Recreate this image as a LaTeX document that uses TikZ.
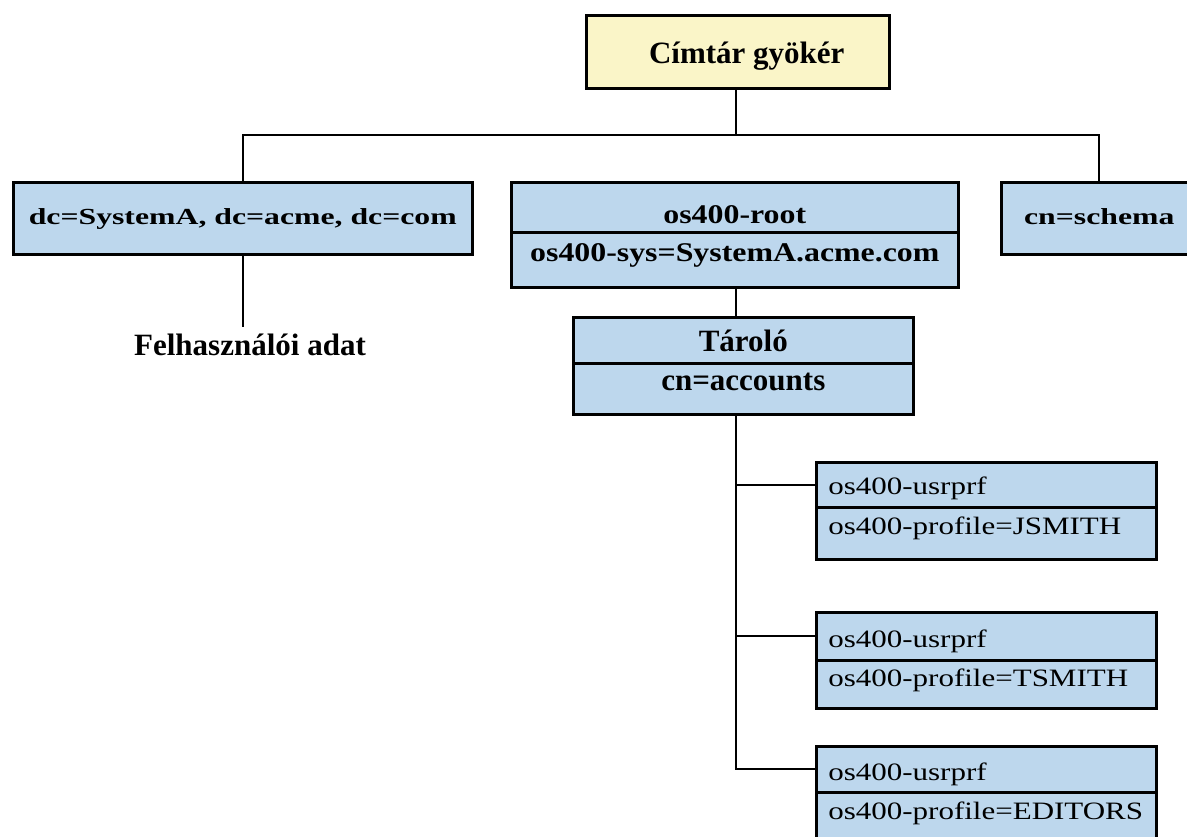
\documentclass[tikz,border=0pt]{standalone}
\usepackage{fontspec}
\setmainfont{Liberation Serif}
\newfontfamily\fwideA[FakeStretch=1.38]{Liberation Serif}
\newfontfamily\fwideB[FakeStretch=1.18]{Liberation Serif}
\newfontfamily\fwideC[FakeStretch=1.24]{Liberation Serif}
\definecolor{boxblue}{RGB}{189,215,237}
\definecolor{rootyellow}{RGB}{250,245,200}
\begin{document}
\begin{tikzpicture}[x=1pt,y=-1pt,
  box/.style={draw=black, line width=2.6pt, fill=boxblue, inner xsep=0pt, inner ysep=0pt, anchor=north west},
  bigfont/.style={font=\fontsize{31}{31}\selectfont\bfseries},
  wideAfont/.style={font=\fwideA\fontsize{23}{23}\selectfont\bfseries},
  wideBfont/.style={font=\fwideB\fontsize{27}{27}\selectfont\bfseries},
  smallbox/.style={box, text width=316pt, inner xsep=12pt, align=left, font=\fwideC\fontsize{25}{25}\selectfont},
  conn/.style={draw=black, line width=2.3pt},
]
\useasboundingbox (0,0) rectangle (1187,836);
\clip (0,0) rectangle (1187,836);

% root
\node[box, fill=rootyellow, bigfont, minimum width=303pt, text height=48pt, text depth=25pt] (root) at (585,14) {\hspace*{18pt}Címtár gyökér};

% second level
\node[box, wideAfont, minimum width=459pt, text height=42pt, text depth=30pt] (dc) at (12,181) {dc=SystemA, dc=acme, dc=com};
\node[box, wideBfont, minimum width=447pt, text height=41pt, text depth=9pt] (osu) at (510,181) {os400-root};
\node[box, wideBfont, minimum width=447pt, text height=29pt, text depth=26pt] (osl) at (510,231) {os400-sys=SystemA.acme.com};
\node[box, wideAfont, minimum width=196pt, text height=42pt, text depth=30pt] (schema) at (1000,181) {cn=schema};

% user data label
\node[bigfont, anchor=base, inner sep=0pt] (felh) at (250,355) {Felhasználói adat};

% container
\node[box, bigfont, minimum width=340pt, text height=34pt, text depth=12pt] (taru) at (572,316) {Tároló};
\node[box, bigfont, minimum width=340pt, text height=27pt, text depth=24pt] (tarl) at (572,362) {cn=accounts};

% user profiles
\node[smallbox, text height=32pt, text depth=13pt] (u1a) at (815,461) {os400-usrprf};
\node[smallbox, text height=27pt, text depth=25pt] (u1b) at (815,506) {os400-profile=JSMITH};
\node[smallbox, text height=35pt, text depth=13pt] (u2a) at (815,611) {os400-usrprf};
\node[smallbox, text height=26pt, text depth=22pt] (u2b) at (815,659) {os400-profile=TSMITH};
\node[smallbox, text height=34pt, text depth=12pt] (u3a) at (815,745) {os400-usrprf};
\node[smallbox, text height=27pt, text depth=35pt] (u3b) at (815,791) {os400-profile=EDITORS};

% connectors
\coordinate (bus) at (736,135);
\coordinate (spine) at (736,0);
\draw[conn] (root.south -| bus) -- (bus);
\draw[conn] (dc.north) |- (bus) -| (schema.north);
\draw[conn] (dc.south) -- ([yshift=6pt]felh.north -| dc.south);
\draw[conn] (osl.south -| spine) -- (taru.north -| spine);
\draw[conn] (tarl.south -| spine) -- (spine |- u3a.west) -- (u3a.west);
\draw[conn] (spine |- u1a.west) -- (u1a.west);
\draw[conn] (spine |- u2a.west) -- (u2a.west);
\end{tikzpicture}
\end{document}
